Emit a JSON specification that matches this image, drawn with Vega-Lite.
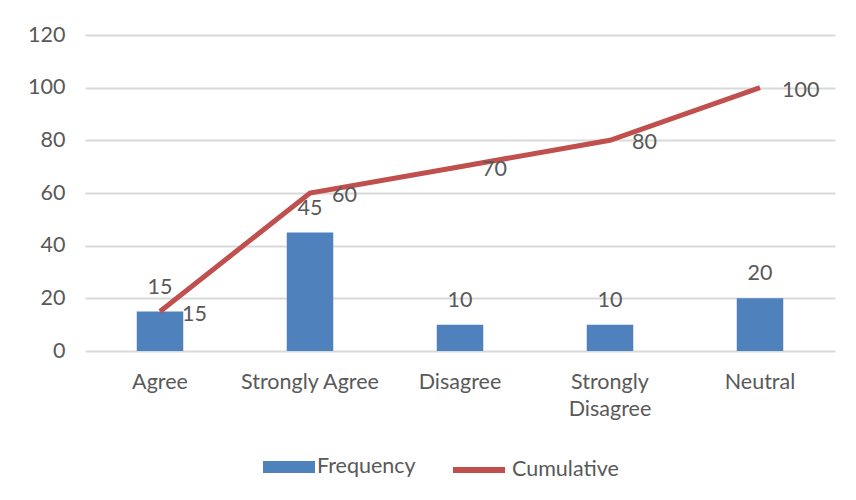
{
  "$schema": "https://vega.github.io/schema/vega-lite/v6.json",
  "width": 750,
  "height": 316,
  "autosize": {"type": "none"},
  "padding": {"left": 85, "top": 35, "right": 21, "bottom": 149},
  "background": "white",
  "config": {
    "view": {"stroke": null},
    "font": "Lato",
    "axis": {"labelColor": "#595959", "labelFontSize": 21.5, "labelFont": "Lato"},
    "legend": {"labelColor": "#595959", "labelFontSize": 21.5, "labelFont": "Lato"}
  },
  "data": {
    "values": [
      {"category": "Agree", "frequency": 15, "cumulative": 15},
      {"category": "Strongly Agree", "frequency": 45, "cumulative": 60},
      {"category": "Disagree", "frequency": 10, "cumulative": 70},
      {"category": "Strongly Disagree", "frequency": 10, "cumulative": 80},
      {"category": "Neutral", "frequency": 20, "cumulative": 100}
    ]
  },
  "encoding": {
    "x": {
      "field": "category",
      "type": "nominal",
      "sort": null,
      "scale": {"paddingInner": 0.69, "paddingOuter": 0.345},
      "axis": {
        "title": null,
        "domain": false,
        "ticks": false,
        "labelAngle": 0,
        "labelPadding": 20,
        "labelLineHeight": 27,
        "labelBaseline": "top",
        "labelExpr": "datum.label == 'Strongly Disagree' ? ['Strongly', 'Disagree'] : datum.label"
      }
    }
  },
  "layer": [
    {
      "mark": {"type": "bar", "color": "#4F81BD"},
      "encoding": {
        "y": {
          "field": "frequency",
          "type": "quantitative",
          "scale": {"domain": [0, 120], "nice": false},
          "axis": {
            "title": null,
            "values": [0, 20, 40, 60, 80, 100, 120],
            "domain": false,
            "ticks": false,
            "grid": true,
            "gridColor": "#d9d9d9",
            "gridWidth": 2,
            "labelPadding": 20
          }
        },
        "fill": {
          "datum": "Frequency",
          "type": "nominal",
          "scale": {"domain": ["Frequency"], "range": ["#4F81BD"]},
          "legend": {
            "title": null,
            "orient": "none",
            "legendX": 178,
            "legendY": 406,
            "direction": "horizontal",
            "padding": 0,
            "symbolType": "M-1,-0.23H1V0.23H-1Z",
            "symbolSize": 2704,
            "symbolStrokeWidth": 0,
            "labelOffset": 2
          }
        }
      }
    },
    {
      "mark": {"type": "text", "baseline": "middle", "dy": -24, "color": "#595959", "fontSize": 21.5},
      "encoding": {
        "y": {"field": "frequency", "type": "quantitative"},
        "text": {"field": "frequency", "type": "quantitative"}
      }
    },
    {
      "mark": {"type": "line", "strokeWidth": 5, "color": "#C0504D"},
      "encoding": {
        "y": {"field": "cumulative", "type": "quantitative"},
        "stroke": {
          "datum": "Cumulative",
          "type": "nominal",
          "scale": {"domain": ["Cumulative"], "range": ["#C0504D"]},
          "legend": {
            "title": null,
            "orient": "none",
            "legendX": 365,
            "legendY": 406,
            "direction": "horizontal",
            "padding": 0,
            "symbolType": "M-1,0H1",
            "symbolSize": 2704,
            "symbolStrokeWidth": 6,
            "symbolStrokeCap": "round",
            "labelOffset": 4
          }
        }
      }
    },
    {
      "mark": {"type": "text", "align": "left", "baseline": "middle", "dx": 22, "dy": 3, "color": "#595959", "fontSize": 21.5},
      "encoding": {
        "y": {"field": "cumulative", "type": "quantitative"},
        "text": {"field": "cumulative", "type": "quantitative"}
      }
    }
  ],
  "resolve": {"scale": {"fill": "independent", "stroke": "independent"}}
}
